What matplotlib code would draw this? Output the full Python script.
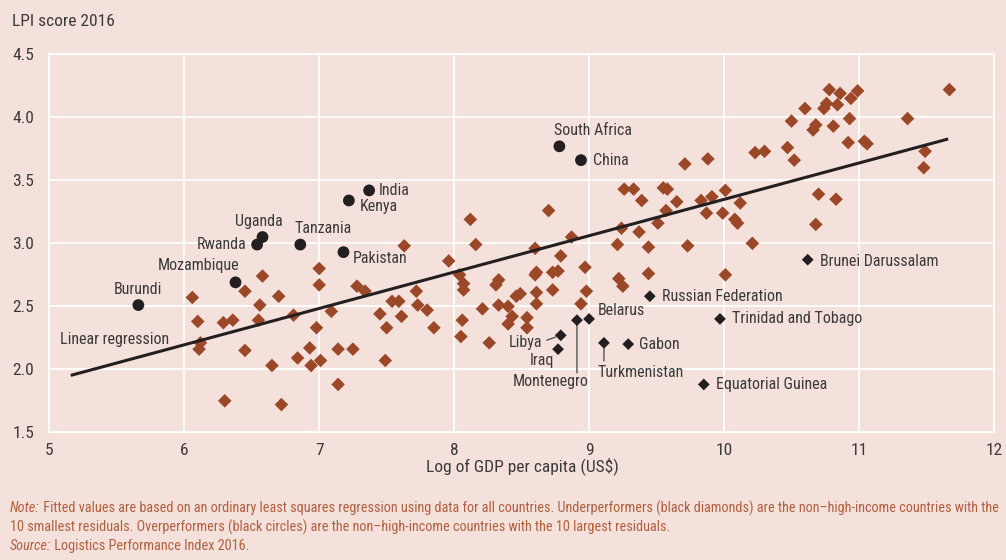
import matplotlib
matplotlib.use("Agg")
import matplotlib.pyplot as plt

# ── data ───────────────────────────────────────────────────────────
# all other countries (brown diamonds): log GDP per capita, LPI score
other_gdp = [6.06, 6.10, 6.12, 6.11, 6.29, 6.36, 6.45, 6.45, 6.58, 6.56, 6.55,
             6.70, 6.81, 6.65, 6.84, 6.93, 6.94, 7.01, 6.98, 7.00, 7.00, 7.09,
             7.14, 7.14, 6.30, 6.72,
             7.63, 7.96, 8.16, 7.28, 7.34, 7.54, 7.59, 7.72, 7.73, 7.80, 7.45,
             7.61, 7.50, 7.85, 7.25, 7.49, 8.04, 8.07, 8.07, 8.06, 8.05, 8.21,
             8.26, 8.33, 8.31, 8.33, 8.40, 8.43, 8.40, 8.46, 8.49, 8.54, 8.54,
             8.60, 8.60, 8.61, 8.61, 8.61, 8.73, 8.77, 8.73, 8.79, 8.87, 8.97,
             8.98, 8.94, 9.21, 9.44, 9.22, 9.25, 9.44,
             8.12, 8.70, 9.26, 9.33, 9.39, 9.55, 9.58, 9.24, 9.37, 9.51, 9.57,
             9.65,
             10.50, 10.68, 10.66, 10.81, 9.71, 9.88, 10.23, 10.30, 10.47, 10.52,
             9.83, 9.91, 10.01, 10.12, 9.87, 9.99, 10.08, 10.10, 10.70, 10.68,
             10.83, 9.73, 10.21, 10.01,
             10.78, 10.86, 10.99, 10.94, 10.76, 10.74, 10.84, 10.60, 10.93,
             11.36, 11.67, 10.92, 11.04, 11.06, 11.49, 11.48]
other_lpi = [2.57, 2.38, 2.21, 2.16, 2.37, 2.39, 2.62, 2.15, 2.74, 2.51, 2.39,
             2.58, 2.43, 2.03, 2.09, 2.17, 2.03, 2.07, 2.33, 2.80, 2.67, 2.46,
             2.16, 1.88, 1.75, 1.72,
             2.98, 2.86, 2.99, 2.66, 2.62, 2.54, 2.54, 2.62, 2.51, 2.47, 2.44,
             2.42, 2.33, 2.33, 2.16, 2.07, 2.75, 2.68, 2.63, 2.39, 2.26, 2.48,
             2.21, 2.71, 2.67, 2.51, 2.50, 2.42, 2.36, 2.58, 2.60, 2.41, 2.33,
             2.96, 2.75, 2.77, 2.61, 2.52, 2.77, 2.78, 2.63, 2.90, 3.05, 2.81,
             2.62, 2.52, 2.99, 2.97, 2.72, 2.66, 2.76,
             3.19, 3.26, 3.43, 3.43, 3.34, 3.44, 3.43, 3.12, 3.09, 3.16, 3.26,
             3.33,
             3.97, 3.94, 3.90, 3.93, 3.63, 3.67, 3.72, 3.73, 3.76, 3.66,
             3.34, 3.37, 3.42, 3.32, 3.24, 3.24, 3.19, 3.16, 3.39, 3.15,
             3.35, 2.98, 3.00, 2.75,
             4.22, 4.19, 4.21, 4.15, 4.11, 4.07, 4.10, 4.07, 3.99,
             3.99, 4.22, 3.80, 3.81, 3.79, 3.73, 3.60]

# overperformers (black circles)
over_names = ["Burundi", "Mozambique", "Rwanda", "Uganda", "Tanzania",
              "Pakistan", "India", "Kenya", "South Africa", "China"]
over_gdp = [5.66, 6.38, 6.54, 6.58, 6.86, 7.18, 7.37, 7.22, 8.78, 8.94]
over_lpi = [2.51, 2.69, 2.99, 3.05, 2.99, 2.93, 3.42, 3.34, 3.77, 3.66]

# underperformers (black diamonds)
under_names = ["Libya", "Iraq", "Montenegro", "Belarus", "Turkmenistan",
               "Gabon", "Russian Federation", "Brunei Darussalam",
               "Trinidad and Tobago", "Equatorial Guinea"]
under_gdp = [8.79, 8.77, 8.91, 9.00, 9.11, 9.29, 9.45, 10.62, 9.97, 9.85]
under_lpi = [2.27, 2.16, 2.39, 2.40, 2.21, 2.20, 2.58, 2.87, 2.40, 1.88]

# fitted line end points
fit_gdp = [5.17, 11.65]
fit_lpi = [1.955, 3.825]

x_ticks = [5, 6, 7, 8, 9, 10, 11, 12]
y_ticks = [1.5, 2.0, 2.5, 3.0, 3.5, 4.0, 4.5]

# ── style ──────────────────────────────────────────────────────────
BG = "#F5E1DC"
BROWN = "#9B4828"
BLACK = "#231F20"
TEXT = "#3A3A3A"
NOTE = "#B0603E"

plt.rcParams["font.family"] = ["Roboto Condensed", "Archivo Narrow",
                               "DejaVu Sans"]

fig = plt.figure(figsize=(10.06, 5.60), dpi=100, facecolor=BG)
ax = fig.add_axes([0.049, 0.228, 0.939, 0.675], facecolor=BG)

ax.set_xlim(5, 12)
ax.set_ylim(1.5, 4.5)
ax.set_xticks(x_ticks)
ax.set_yticks(y_ticks)
ax.set_yticklabels([f"{v:.1f}" for v in y_ticks])
ax.grid(True, color="white", linewidth=1.3, zorder=0)
ax.set_axisbelow(True)
for s in ax.spines.values():
    s.set_color("white")
    s.set_linewidth(1.3)
ax.tick_params(length=0, labelsize=12.5, labelcolor=TEXT)
ax.tick_params(axis="x", pad=8)
ax.tick_params(axis="y", pad=11)

ax.scatter(other_gdp, other_lpi, marker="D", s=48, color=BROWN,
           edgecolors="none", zorder=3)
ax.plot(fit_gdp, fit_lpi, color=BLACK, linewidth=2.2, zorder=4)
ax.scatter(over_gdp, over_lpi, marker="o", s=72, color=BLACK,
           edgecolors="none", zorder=5)
ax.scatter(under_gdp, under_lpi, marker="D", s=36, color=BLACK,
           edgecolors="none", zorder=5)

# label offsets in points: (dx, dy, ha)
over_offsets = {
    "Burundi": (0, 11, "center"),
    "Mozambique": (3, 12, "right"),
    "Rwanda": (-7.5, 0, "right"),
    "Uganda": (-2.5, 11, "center"),
    "Tanzania": (-4.5, 11.5, "left"),
    "Pakistan": (7, -4.5, "left"),
    "India": (7, 0, "left"),
    "Kenya": (8, -4, "left"),
    "South Africa": (-4, 11.5, "left"),
    "China": (9, 0, "left"),
}
under_offsets = {
    "Libya": (-13, -5.5, "right"),
    "Iraq": (-3, -8.5, "right"),
    "Montenegro": (-19, -44, "center"),
    "Belarus": (6.5, 6, "left"),
    "Turkmenistan": (-4.5, -21, "left"),
    "Gabon": (8, 0, "left"),
    "Russian Federation": (8.5, 0, "left"),
    "Brunei Darussalam": (8.5, -1, "left"),
    "Trinidad and Tobago": (8.5, 0, "left"),
    "Equatorial Guinea": (8.5, 0, "left"),
}

for name, gx, ly in zip(over_names, over_gdp, over_lpi):
    dx, dy, ha = over_offsets[name]
    ax.annotate(name, (gx, ly), xytext=(dx, dy), textcoords="offset points",
                ha=ha, va="center", fontsize=11.5, color=TEXT, zorder=6)

for name, gx, ly in zip(under_names, under_gdp, under_lpi):
    dx, dy, ha = under_offsets[name]
    ax.annotate(name, (gx, ly), xytext=(dx, dy), textcoords="offset points",
                ha=ha, va="center", fontsize=11.5, color=TEXT, zorder=6)

# leader lines
lead = dict(color="#555555", linewidth=1.0)
ax.annotate("", (under_gdp[0], under_lpi[0]), xytext=(-10, -3.5),
            textcoords="offset points",
            arrowprops=dict(arrowstyle="-", shrinkA=0, shrinkB=4, **lead))
ax.annotate("", (under_gdp[2], under_lpi[2]), xytext=(0, -38),
            textcoords="offset points",
            arrowprops=dict(arrowstyle="-", shrinkA=0, shrinkB=3, **lead))
ax.annotate("", (under_gdp[4], under_lpi[4]), xytext=(0, -13),
            textcoords="offset points",
            arrowprops=dict(arrowstyle="-", shrinkA=0, shrinkB=4, **lead))

ax.text(5.08, 2.233, "Linear regression", ha="left", va="center",
        fontsize=11.5, color=TEXT)

fig.text(12 / 1006, 1 - 22 / 560, "LPI score 2016", ha="left", va="center",
         fontsize=12.5, color=TEXT)
fig.text(522 / 1006, 1 - 466 / 560, "Log of GDP per capita (US$)",
         ha="center", va="center", fontsize=12.5, color=TEXT)

# note and source
note_kw = dict(fontsize=10.3, color=NOTE, va="center")
t1 = fig.text(10 / 1006, 1 - 508 / 560, "Note:", style="italic", **note_kw)
ax.annotate(" Fitted values are based on an ordinary least squares "
            "regression using data for all countries. Underperformers (black "
            "diamonds) are the non\u2013high-income countries with the",
            xy=(1, 0.5), xycoords=t1, ha="left", annotation_clip=False,
            **note_kw)
fig.text(10 / 1006, 1 - 527 / 560,
         "10 smallest residuals. Overperformers (black circles) are the "
         "non\u2013high-income countries with the 10 largest residuals.",
         **note_kw)
t3 = fig.text(10 / 1006, 1 - 546 / 560, "Source:", style="italic", **note_kw)
ax.annotate(" Logistics Performance Index 2016.", xy=(1, 0.5), xycoords=t3,
            ha="left", annotation_clip=False, **note_kw)

fig.savefig("out.png", dpi=100, facecolor=BG)
